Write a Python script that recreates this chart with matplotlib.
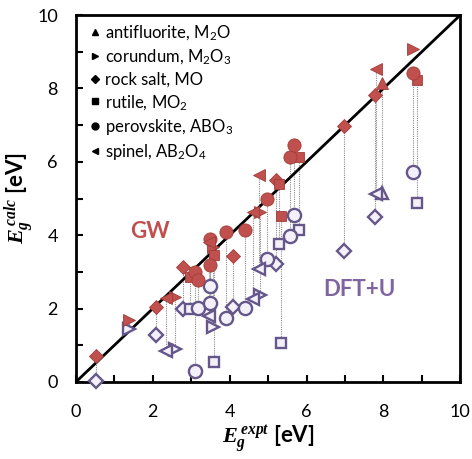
import numpy as np
import matplotlib
matplotlib.use("Agg")
from matplotlib import pyplot as plt
from matplotlib.lines import Line2D

plt.rcParams['font.family'] = ['Lato', 'DejaVu Sans']
plt.rcParams['mathtext.fontset'] = 'custom'
plt.rcParams['mathtext.it'] = 'Liberation Serif:bold:italic'
plt.rcParams['mathtext.rm'] = 'Lato'

# Experimental gaps, GW and DFT+U gaps (eV), and structure type of each oxide
expt = [0.52, 1.38, 2.08, 2.35, 2.58, 2.79, 2.97, 3.10, 3.18, 3.46, 3.57, 3.58,
        3.49, 3.49, 3.90, 4.08, 4.40, 4.60, 4.80, 4.76, 4.98, 5.20, 5.29, 5.34,
        5.57, 5.68, 5.80, 6.98, 7.79, 7.82, 7.97, 8.78, 8.78, 8.88]
gw = [0.71, 1.69, 2.05, 2.30, 2.32, 3.12, 2.85, 3.00, 2.78, 3.82, 3.68, 3.46,
      3.19, 3.90, 4.09, 3.43, 4.14, 4.63, 4.63, 5.64, 4.99, 5.50, 5.40, 4.52,
      6.13, 6.46, 6.13, 6.98, 7.82, 8.53, 8.15, 9.07, 8.42, 8.23]
dft = [0.02, 1.45, 1.28, 0.85, 0.90, 2.00, 2.00, 0.30, 2.02, 1.80, 1.50, 0.54,
       2.15, 2.62, 1.74, 2.04, 2.02, 2.26, 2.37, 3.08, 3.35, 3.21, 3.76, 1.06,
       3.98, 4.55, 4.14, 3.57, 4.50, 5.12, 5.15, np.nan, 5.72, 4.88]
kind = ["rocksalt", "corundum", "rocksalt", "spinel", "corundum", "rocksalt",
        "rutile", "perovskite", "perovskite", "spinel", "corundum", "rutile",
        "perovskite", "perovskite", "perovskite", "rocksalt", "perovskite",
        "spinel", "corundum", "spinel", "perovskite", "rocksalt", "rutile",
        "rutile", "perovskite", "perovskite", "rutile", "rocksalt", "rocksalt",
        "spinel", "antifluorite", "corundum", "perovskite", "rutile"]

types = ["antifluorite", "corundum", "rocksalt", "rutile", "perovskite", "spinel"]
labels = ["antifluorite, M$_2$O", "corundum, M$_2$O$_3$", "rock salt, MO",
          "rutile, MO$_2$", "perovskite, ABO$_3$", "spinel, AB$_2$O$_4$"]
markers = {"antifluorite": "^", "corundum": ">", "rocksalt": "D",
           "rutile": "s", "perovskite": "o", "spinel": "<"}
msize = {"antifluorite": 9, "corundum": 9, "rocksalt": 7,
         "rutile": 7, "perovskite": 9.5, "spinel": 9}

fig = plt.figure(figsize=(4.72, 4.59), dpi=100)
ax = fig.add_axes([0.161, 0.168, 0.814, 0.799])

expt_a = np.array(expt)
gw_a = np.array(gw)
dft_a = np.array(dft)
kind_a = np.array(kind)

# dotted connectors between GW and DFT+U values
ok = ~np.isnan(dft_a)
ax.vlines(expt_a[ok], dft_a[ok], gw_a[ok], colors="#8a8a8a",
          linestyles=(0, (1, 1)), linewidth=0.8, zorder=1)

ax.plot([0, 10], [0, 10], color="black", lw=2, zorder=2)

for t in types:
    m = kind_a == t
    ax.plot(expt_a[m], dft_a[m], linestyle="none", marker=markers[t],
            ms=msize[t], mfc="#f4f0fa", mec="#65578a", mew=1.7, zorder=3,
            clip_on=False)
    ax.plot(expt_a[m], gw_a[m], linestyle="none", marker=markers[t],
            ms=msize[t], mfc="#c0504d", mec="#a13c39", mew=0.6, zorder=4)

handles = [Line2D([], [], linestyle="none", marker=markers[t], color="black",
                  ms=5 if t != "rocksalt" else 4.5) for t in types]
ax.legend(handles, labels, loc="upper left", frameon=False, fontsize=12,
          handletextpad=0.05, handlelength=1.1, labelspacing=0.32,
          borderaxespad=0.3, bbox_to_anchor=(-0.005, 1.01))

ax.text(1.93, 4.09, "GW", color="#c0504d", fontsize=16, fontweight="bold",
        ha="center", va="center")
ax.text(7.37, 2.53, "DFT+U", color="#8064a2", fontsize=16, fontweight="bold",
        ha="center", va="center")

ax.set_xlim(0, 10)
ax.set_ylim(0, 10)
ax.set_xticks(range(0, 11, 2))
ax.set_yticks(range(0, 11, 2))
ax.set_xticks(range(0, 11), minor=True)
ax.set_yticks(range(0, 11), minor=True)
ax.tick_params(which="both", direction="in", length=5, width=1.5,
               labelsize=13)
ax.tick_params(axis="x", pad=16)
ax.tick_params(axis="y", pad=13)
for s in ax.spines.values():
    s.set_linewidth(2)

ax.set_xlabel(r"$E_g^{\,expt}$ [eV]", fontsize=16, fontweight="bold", labelpad=3)
ax.set_ylabel(r"$E_g^{\,calc}$ [eV]", fontsize=16, fontweight="bold", labelpad=1)

fig.savefig("out.png", dpi=100)
